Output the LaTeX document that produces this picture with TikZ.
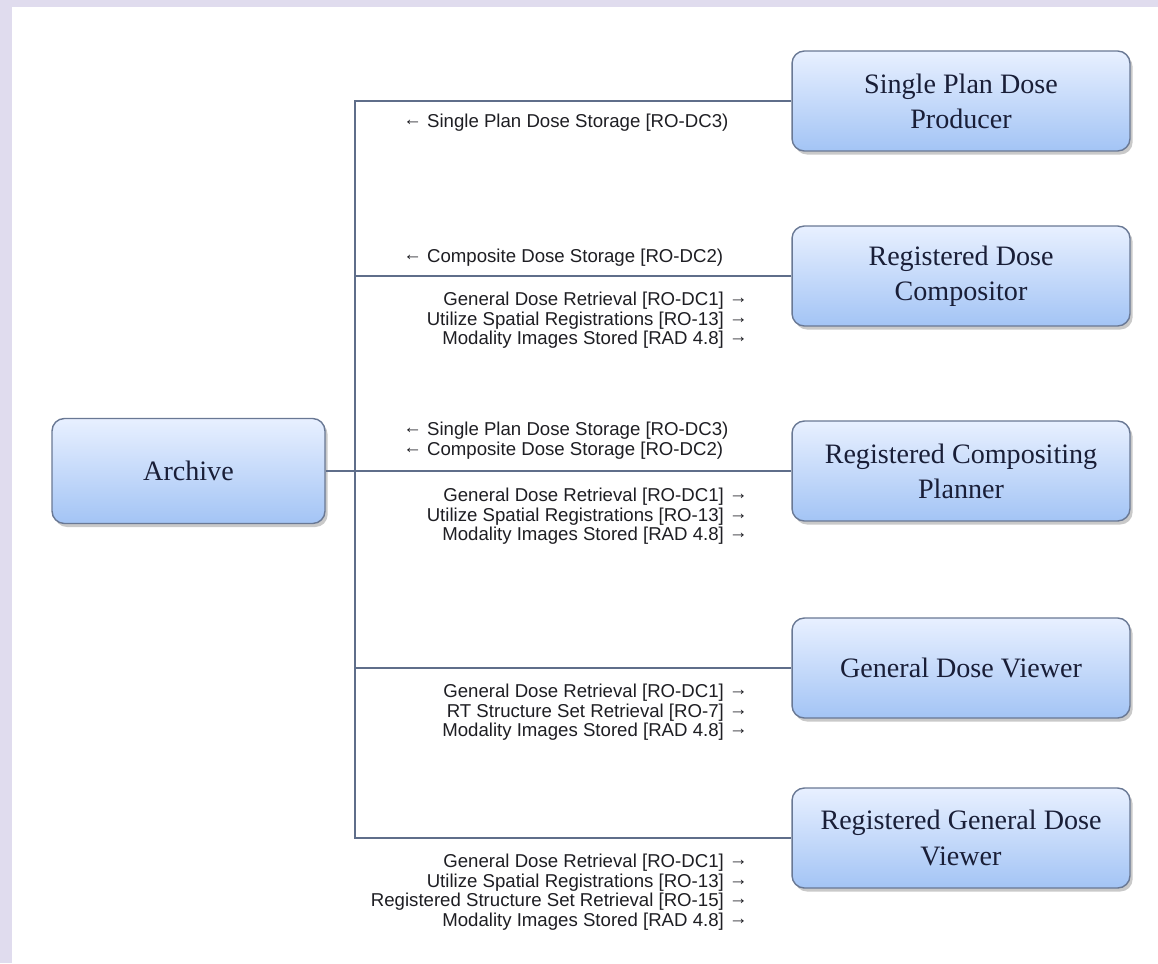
\documentclass[tikz,border=0pt]{standalone}
\usepackage{fontspec}
\setmainfont{Liberation Serif}
\setsansfont{Liberation Sans}
\usetikzlibrary{positioning, calc, shadows}

\definecolor{frame}{RGB}{224,220,238}
\definecolor{wire}{RGB}{95,110,138}
\definecolor{boxline}{RGB}{105,120,148}
\definecolor{boxtop}{RGB}{232,240,255}
\definecolor{boxbot}{RGB}{163,196,245}
\definecolor{boxtext}{RGB}{25,30,55}
\definecolor{txt}{RGB}{30,30,35}

\newcommand{\putarr}{\raisebox{1.3pt}{←}}
\newcommand{\getarr}{\raisebox{1.3pt}{→}}

\tikzset{
  actor/.style={draw=boxline, line width=0.8pt, rounded corners=7pt,
    top color=boxtop, bottom color=boxbot,
    minimum width=6.76cm, minimum height=2cm, align=center,
    font=\fontsize{16}{20}\selectfont, text=boxtext,
    drop shadow={shadow xshift=1.5pt, shadow yshift=-2pt, opacity=0.35, fill=black!60}},
  link/.style={draw=wire, line width=0.8pt},
  trans/.style={font=\sffamily\fontsize{10.6}{11.1}\selectfont, text=txt, inner sep=0pt}
}

\begin{document}
\begin{tikzpicture}[x=0.02cm,y=-0.02cm]

      \useasboundingbox (0,0) rectangle (1158,963);
      \fill[frame] (0,0) rectangle (1158,963);
      \fill[white] (12,7) rectangle (1158,963);

      % ACTORS

      \node[actor, minimum width=5.46cm, minimum height=2.1cm] (archive) at (188.5,471) {Archive};
      \node[actor] (prod) at (961,101) {Single Plan Dose\\Producer};
      \node[actor] (comp) at (961,276) {Registered Dose\\Compositor};
      \node[actor] (plan) at (961,471) {Registered Compositing\\Planner};
      \node[actor] (view) at (961,668) {General Dose Viewer};
      \node[actor] (rview) at (961,838) {Registered General Dose\\Viewer};

      % LINKS

      \coordinate (trunk) at (355,101);
      \draw[link] (prod.west) -- (prod.west -| trunk) -- (rview.west -| trunk) -- (rview.west);
      \draw[link] (comp.west) -- (comp.west -| trunk);
      \draw[link] (archive.east) -- (plan.west);
      \draw[link] (view.west) -- (view.west -| trunk);

      % TRANSACTIONS

      \node[trans, anchor=west] (prodin) at (403,123) {\putarr{} Single Plan Dose Storage [RO-DC3)};
      \node[trans, anchor=west] (compin) at (403,258) {\putarr{} Composite Dose Storage [RO-DC2)};
      \node[trans, anchor=north east, align=right] (compout) at (748,292)
        {General Dose Retrieval [RO-DC1] \getarr\\Utilize Spatial Registrations [RO-13] \getarr\\Modality Images Stored [RAD 4.8] \getarr};
      \node[trans, anchor=north west, align=left] (planin) at (403,422)
        {\putarr{} Single Plan Dose Storage [RO-DC3)\\\putarr{} Composite Dose Storage [RO-DC2)};
      \node[trans, anchor=north east, align=right] (planout) at (748,488)
        {General Dose Retrieval [RO-DC1] \getarr\\Utilize Spatial Registrations [RO-13] \getarr\\Modality Images Stored [RAD 4.8] \getarr};
      \node[trans, anchor=north east, align=right] (viewout) at (748,684)
        {General Dose Retrieval [RO-DC1] \getarr\\RT Structure Set Retrieval [RO-7] \getarr\\Modality Images Stored [RAD 4.8] \getarr};
      \node[trans, anchor=north east, align=right] (rviewout) at (748,854)
        {General Dose Retrieval [RO-DC1] \getarr\\Utilize Spatial Registrations [RO-13] \getarr\\Registered Structure Set Retrieval [RO-15] \getarr\\Modality Images Stored [RAD 4.8] \getarr};

    \end{tikzpicture}
\end{document}
